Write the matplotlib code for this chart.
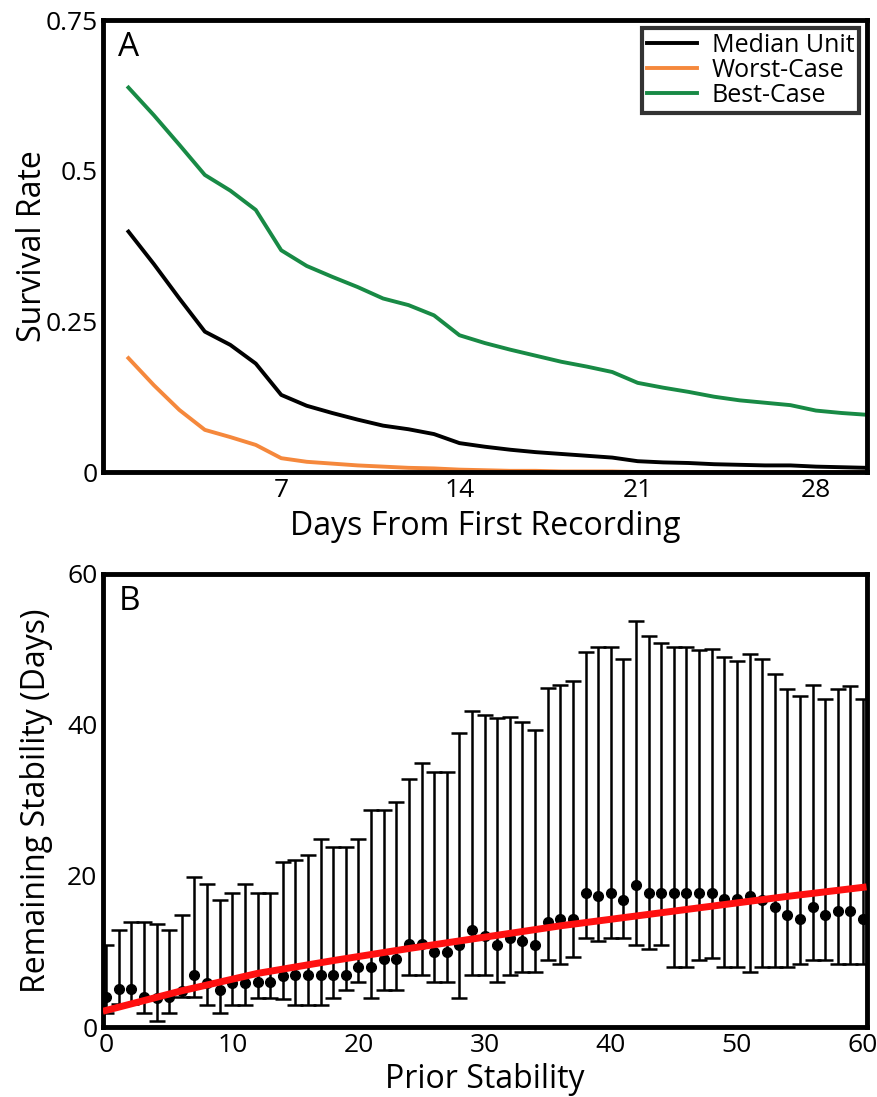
import numpy as np
import matplotlib
matplotlib.use("Agg")
import matplotlib.pyplot as plt

plt.rcParams['font.family'] = ['Open Sans', 'DejaVu Sans']

# Panel A: survival curves
days = [1, 2, 3, 4, 5, 6, 7, 8, 9, 10, 11, 12, 13, 14, 15,
        16, 17, 18, 19, 20, 21, 22, 23, 24, 25, 26, 27, 28, 29, 30]
median_unit = [0.399, 0.345, 0.288, 0.233, 0.211, 0.180, 0.128, 0.110, 0.098, 0.087,
               0.077, 0.071, 0.063, 0.048, 0.042, 0.037, 0.033, 0.030, 0.027, 0.024,
               0.018, 0.016, 0.015, 0.013, 0.012, 0.011, 0.011, 0.009, 0.008, 0.007]
worst_case = [0.189, 0.144, 0.103, 0.070, 0.058, 0.045, 0.023, 0.017, 0.014, 0.011,
              0.009, 0.007, 0.006, 0.004, 0.003, 0.002, 0.002, 0.001, 0.001, 0.001,
              0.0, 0.0, 0.0, 0.0, 0.0, 0.0, 0.0, 0.0, 0.0, 0.0]
best_case = [0.638, 0.592, 0.543, 0.493, 0.467, 0.435, 0.368, 0.342, 0.324, 0.307,
             0.288, 0.277, 0.260, 0.227, 0.214, 0.203, 0.193, 0.183, 0.175, 0.166,
             0.148, 0.140, 0.133, 0.125, 0.119, 0.115, 0.111, 0.102, 0.098, 0.095]

# Panel B: remaining stability vs prior stability
prior = list(range(0, 61))
remain_mean = [4.0, 5.0, 5.0, 4.0, 3.8, 4.0, 4.8, 6.9, 5.8, 4.9,
               5.8, 5.8, 5.9, 5.9, 6.8, 6.9, 6.9, 6.9, 6.9, 6.9,
               8.0, 8.0, 9.0, 9.0, 11.0, 11.0, 10.0, 10.0, 10.9, 12.9,
               12.0, 10.9, 11.8, 11.4, 10.9, 13.9, 14.3, 14.3, 17.8, 17.4,
               17.8, 16.8, 18.8, 17.8, 17.8, 17.8, 17.8, 17.8, 17.8, 16.9,
               16.9, 17.4, 16.8, 15.9, 14.8, 14.3, 15.9, 14.8, 15.3, 15.3,
               14.3]
remain_upper = [10.9, 12.8, 13.9, 13.9, 13.7, 12.8, 14.8, 19.9, 18.9, 16.8,
                17.8, 18.9, 17.8, 17.8, 21.9, 22.1, 22.8, 24.9, 23.9, 23.9,
                24.9, 28.7, 28.8, 29.8, 32.8, 34.9, 33.8, 33.8, 39.0, 41.9,
                41.3, 40.9, 41.0, 40.4, 39.3, 44.9, 45.3, 45.8, 49.6, 50.3,
                50.3, 48.8, 53.8, 51.8, 50.9, 50.3, 50.3, 49.9, 50.0, 49.0,
                48.5, 49.4, 48.7, 46.8, 44.8, 43.8, 45.3, 43.5, 44.8, 45.2,
                43.4]
remain_lower = [1.9, 3.1, 3.1, 1.9, 0.8, 1.9, 4.0, 4.0, 2.9, 1.9,
                2.9, 2.9, 3.9, 3.9, 3.7, 2.9, 2.9, 2.9, 3.9, 4.9,
                5.9, 3.9, 4.9, 4.9, 6.9, 6.9, 5.9, 5.9, 3.9, 6.9,
                6.9, 5.9, 6.9, 7.3, 7.3, 8.9, 8.4, 9.3, 11.8, 11.4,
                11.8, 11.8, 10.9, 10.3, 10.9, 7.9, 7.9, 8.9, 9.1, 7.9,
                7.9, 7.3, 7.9, 7.9, 7.9, 8.3, 8.9, 8.9, 8.3, 8.3,
                8.3]
fit_x = [0, 3, 6, 12, 18, 24, 30, 36, 42, 48, 54, 60]
fit_y = [2.2, 3.5, 4.8, 7.1, 8.8, 10.4, 11.9, 13.4, 14.7, 16.0, 17.3, 18.5]

fig = plt.figure(figsize=(8.78, 10.97), dpi=100)
axA = fig.add_axes([0.1173, 0.5697, 0.870, 0.412])
axB = fig.add_axes([0.1173, 0.0638, 0.870, 0.413])

spine_w = 3.5
label_fs = 23
tick_fs = 19

# ---- Panel A
axA.plot(days, median_unit, color='black', lw=2.8, label='Median Unit')
axA.plot(days, worst_case, color='#f5883c', lw=2.8, label='Worst-Case')
axA.plot(days, best_case, color='#188a45', lw=2.8, label='Best-Case')
axA.set_xlim(0, 30)
axA.set_ylim(0, 0.75)
axA.set_xticks([7, 14, 21, 28])
axA.set_yticks([0, 0.25, 0.5, 0.75])
axA.set_yticklabels(['0', '0.25', '0.5', '0.75'])
axA.set_xlabel('Days From First Recording', fontsize=label_fs, labelpad=5)
axA.set_ylabel('Survival Rate', fontsize=label_fs, labelpad=-3)
axA.text(0.02, 0.975, 'A', transform=axA.transAxes, fontsize=24,
         va='top', ha='left')
leg = axA.legend(loc='upper right', fontsize=18, frameon=True, fancybox=False,
                 handlelength=2.0, handletextpad=0.6, borderpad=0.2,
                 labelspacing=0.0, borderaxespad=0.3)
leg.get_frame().set_edgecolor('black')
leg.get_frame().set_linewidth(3)

# ---- Panel B
axB.errorbar(prior, remain_mean,
             yerr=[np.array(remain_mean) - np.array(remain_lower),
                   np.array(remain_upper) - np.array(remain_mean)],
             fmt='o', color='black', ecolor='black', markersize=7,
             elinewidth=1.8, capsize=6, capthick=1.8, zorder=2)
axB.plot(fit_x, fit_y, color='#ff1010', lw=5, zorder=3)
axB.set_xlim(-0.25, 60.3)
axB.set_ylim(0, 60)
axB.set_xticks([0, 10, 20, 30, 40, 50, 60])
axB.set_yticks([0, 20, 40, 60])
axB.set_xlabel('Prior Stability', fontsize=label_fs, labelpad=4)
axB.set_ylabel('Remaining Stability (Days)', fontsize=label_fs, labelpad=10)
axB.text(0.02, 0.975, 'B', transform=axB.transAxes, fontsize=24,
         va='top', ha='left')

for ax in (axA, axB):
    for s in ax.spines.values():
        s.set_linewidth(spine_w)
    ax.tick_params(length=0, labelsize=tick_fs, pad=4)

fig.savefig('out.png', dpi=100)
